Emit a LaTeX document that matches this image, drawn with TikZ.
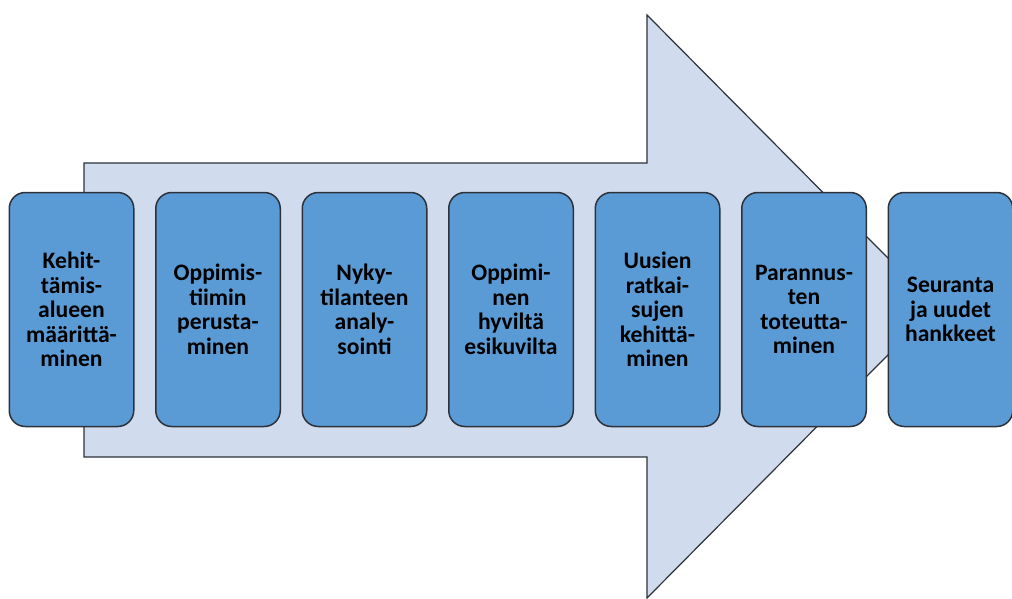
\documentclass[tikz,border=0pt]{standalone}
\usepackage{fontspec}
\setmainfont{Carlito}
\usetikzlibrary{positioning}
\definecolor{boxblue}{RGB}{91,155,213}
\definecolor{arrowfill}{RGB}{208,220,238}
\definecolor{edgegray}{RGB}{45,50,58}
\tikzset{stage/.style={draw=edgegray, line width=0.75pt, fill=boxblue, rounded corners=8pt,
    minimum width=62.25pt, minimum height=117pt, inner sep=2pt, outer sep=0pt,
    align=center, font=\fontsize{11.8}{12.3}\selectfont\bfseries}}
\tikzset{bigarrow/.style={draw=edgegray, line width=0.6pt, fill=arrowfill, line join=miter}}

\begin{document}
\begin{tikzpicture}[x=0.5pt,y=-0.5pt]
\useasboundingbox (0,0) rectangle (1012,599);

% arrow corners
\coordinate (tl) at (84,163);
\coordinate (hl) at (647,163);
\coordinate (ht) at (647,15);
\coordinate (tip) at (936,306.5);
\coordinate (hb) at (647,598);
\coordinate (hr) at (647,457);
\coordinate (bl) at (84,457);

\draw[bigarrow] (tl) -- (hl) -- (ht) -- (tip) -- (hb) -- (hr) -- (bl) -- cycle;

\node[stage] (s1) at (71.5,309.5) {Kehit-\\tämis-\\alueen\\määrittä-\\minen};
\node[stage] (s2) [right=11pt of s1] {Oppimis-\\tiimin\\perusta-\\minen};
\node[stage] (s3) [right=11pt of s2] {Nyky-\\tilanteen\\analy-\\sointi};
\node[stage] (s4) [right=11pt of s3] {Oppimi-\\nen\\hyviltä\\esikuvilta};
\node[stage] (s5) [right=11pt of s4] {Uusien\\ratkai-\\sujen\\kehittä-\\minen};
\node[stage] (s6) [right=11pt of s5] {Parannus-\\ten\\toteutta-\\minen};
\node[stage] (s7) [right=11pt of s6] {Seuranta\\ja uudet\\hankkeet};
\end{tikzpicture}
\end{document}
